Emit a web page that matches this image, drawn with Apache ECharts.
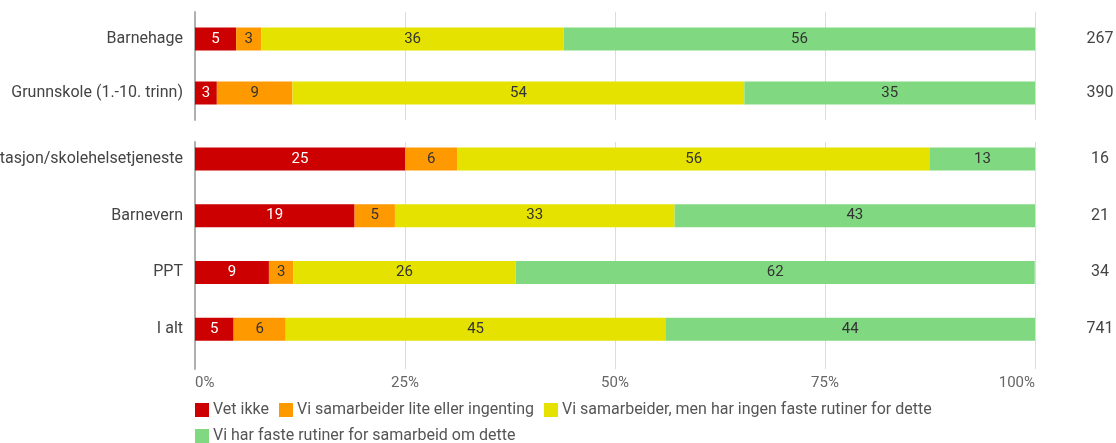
<!DOCTYPE html>
<html>
<head>
<meta charset="utf-8">
<script src="https://cdn.jsdelivr.net/npm/echarts@6/dist/echarts.min.js"></script>
<style>
  html, body { margin: 0; padding: 0; background: #fff; }
  #chart { width: 1116px; height: 443px; }
</style>
</head>
<body>
<div id="chart"></div>
<script>
// two groups of rows, drawn in two grids
const topCategories = ['Barnehage', 'Grunnskole (1.-10. trinn)'];
const bottomCategories = ['Helsestasjon/skolehelsetjeneste', 'Barnevern', 'PPT', 'I alt'];

// N per row (right column)
const topCounts = [267, 390];
const bottomCounts = [16, 21, 34, 741];

// shares in percent, top rows then bottom rows
const vetIkke = [4.9, 2.6, 25, 19.0, 8.8, 4.6];
const samarbeiderLite = [3.0, 9.0, 6.25, 4.8, 2.9, 6.2];
const ingenFasteRutiner = [36.0, 53.8, 56.25, 33.3, 26.47, 45.2];
const fasteRutiner = [56.1, 34.6, 12.5, 42.9, 61.8, 44.0];

const seriesNames = [
  'Vet ikke',
  'Vi samarbeider lite eller ingenting',
  'Vi samarbeider, men har ingen faste rutiner for dette',
  'Vi har faste rutiner for samarbeid om dette'
];
const seriesValues = [vetIkke, samarbeiderLite, ingenFasteRutiner, fasteRutiner];
const colors = ['#cc0000', '#ff9900', '#e6e200', '#80d880'];
const labelColors = ['#ffffff', '#333333', '#333333', '#333333'];

const font = 'Roboto, sans-serif';
const nTop = topCategories.length;

const chart = echarts.init(document.getElementById('chart'));

// lifted: label anchored by its bottom so it lines up with the shifted bars
function catAxis(gridIndex, data, pos, counts, lifted) {
  const label = {
    fontFamily: font, fontSize: 16, color: '#444'
  };
  if (lifted) {
    label.verticalAlign = 'bottom';
    label.lineHeight = 23;
  }
  if (pos === 'left') {
    label.margin = 12;
  } else {
    label.margin = 65;
    label.align = 'center';
    label.formatter = function (v, i) { return String(counts[i]); };
  }
  return {
    type: 'category',
    gridIndex: gridIndex,
    position: pos,
    inverse: true,
    data: data,
    axisLine: { show: pos === 'left', lineStyle: { color: '#b0b0b0', width: 2 } },
    axisTick: { show: false },
    axisLabel: label
  };
}

function valAxis(gridIndex, showLabels) {
  return {
    type: 'value',
    gridIndex: gridIndex,
    min: 0,
    max: 100,
    interval: 25,
    axisLine: { show: false },
    axisTick: { show: false },
    splitLine: { lineStyle: { color: '#dcdcdc', width: 1 } },
    axisLabel: {
      show: showLabels,
      fontFamily: font,
      fontSize: 15,
      color: '#666',
      margin: 7,
      alignMinLabel: 'left',
      alignMaxLabel: 'right',
      formatter: '{value}%'
    }
  };
}

const series = [];
seriesNames.forEach(function (name, s) {
  [0, 1].forEach(function (g) {
    const vals = g === 0 ? seriesValues[s].slice(0, nTop) : seriesValues[s].slice(nTop);
    series.push({
      name: name,
      type: 'bar',
      xAxisIndex: g,
      yAxisIndex: g * 2,
      stack: 'total' + g,
      barWidth: 23,
      barGap: '0%',
      itemStyle: { color: colors[s] },
      label: {
        show: true,
        position: 'inside',
        fontFamily: font,
        fontSize: 15,
        color: labelColors[s],
        formatter: function (p) { return Math.round(p.value); }
      },
      emphasis: { disabled: true },
      data: vals
    });
  });
});

// empty neighbour bar so the bottom rows sit higher in their bands
series.push({
  name: 'spacer',
  type: 'bar',
  xAxisIndex: 1,
  yAxisIndex: 2,
  stack: 'spacer',
  barWidth: 23,
  barGap: '0%',
  silent: true,
  itemStyle: { color: 'rgba(0,0,0,0)' },
  data: bottomCategories.map(function () { return 0; })
});

chart.setOption({
  animation: false,
  backgroundColor: '#fff',
  color: colors,
  grid: [
    { left: 195, right: 81, top: 12, height: 108, outerBoundsMode: 'none', containLabel: false },
    { left: 195, right: 81, top: 142, height: 227, outerBoundsMode: 'none', containLabel: false }
  ],
  legend: {
    data: seriesNames,
    left: 195,
    top: 402,
    width: 840,
    icon: 'rect',
    itemWidth: 14,
    itemHeight: 14,
    itemGap: 10,
    padding: 0,
    textStyle: { fontFamily: font, fontSize: 16, color: '#555', lineHeight: 16, padding: [0, 0, 0, -1] }
  },
  xAxis: [valAxis(0, false), valAxis(1, true)],
  yAxis: [
    catAxis(0, topCategories, 'left'),
    catAxis(0, topCategories, 'right', topCounts),
    catAxis(1, bottomCategories, 'left', null, true),
    catAxis(1, bottomCategories, 'right', bottomCounts, true)
  ],
  series: series
});
</script>
</body>
</html>
